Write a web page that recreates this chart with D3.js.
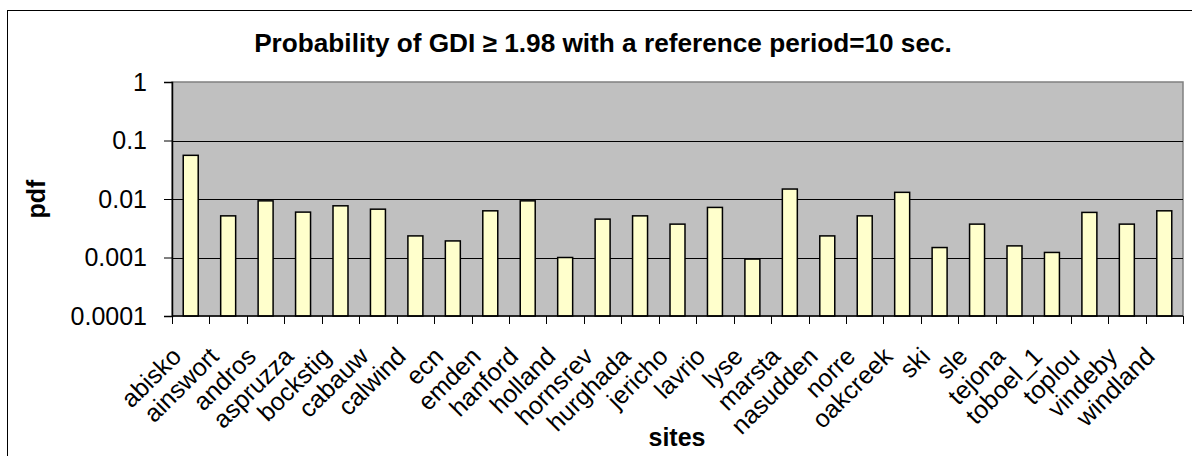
<!DOCTYPE html>
<html>
<head>
<meta charset="utf-8">
<script src="https://d3js.org/d3.v7.min.js"></script>
<style>
  body { margin: 0; background: #fff; }
  svg { display: block; font-family: Arial, "Liberation Sans", sans-serif; }
</style>
</head>
<body>
<svg width="1192" height="456"></svg>
<script>
// sites and pdf values
const sites = ['abisko', 'ainswort', 'andros', 'aspruzza', 'bockstig', 'cabauw', 'calwind',
  'ecn', 'emden', 'hanford', 'holland', 'hornsrev', 'hurghada', 'jericho', 'lavrio', 'lyse',
  'marsta', 'nasudden', 'norre', 'oakcreek', 'ski', 'sle', 'tejona', 'toboel_1', 'toplou',
  'vindeby', 'windland'];
const pdf = [0.0558, 0.00515, 0.0093, 0.00597, 0.00765, 0.0067, 0.00234,
  0.00192, 0.00628, 0.0093, 0.00100, 0.00453, 0.00515, 0.00372, 0.00718, 0.00094,
  0.0148, 0.00234, 0.00515, 0.0130, 0.00148, 0.00372, 0.00158, 0.00122, 0.0059,
  0.00372, 0.00628];
const yTicks = [0.0001, 0.001, 0.01, 0.1, 1];
const yTickLabels = ['0.0001', '0.001', '0.01', '0.1', '1'];

const svg = d3.select('svg');
const plot = { left: 172, top: 82, right: 1183, bottom: 316 };

// outer chart border (runs off the picture on the right and bottom)
svg.append('rect')
  .attr('x', 7.5).attr('y', 10.5)
  .attr('width', 1200).attr('height', 470)
  .attr('fill', '#fff').attr('stroke', '#000').attr('stroke-width', 1);

const x = d3.scaleBand().domain(sites).range([plot.left, plot.right]).paddingInner(0.6).paddingOuter(0.3);
const xc = d3.scaleBand().domain(sites).range([plot.left, plot.right]);
const y = d3.scaleLog().domain([0.0001, 1]).range([plot.bottom, plot.top]);

svg.append('rect')
  .attr('x', plot.left).attr('y', plot.top)
  .attr('width', plot.right - plot.left).attr('height', plot.bottom - plot.top)
  .attr('fill', '#c0c0c0').attr('stroke', '#808080').attr('stroke-width', 1.5);

// gridlines
svg.append('g').selectAll('line')
  .data(yTicks.slice(1, -1))
  .enter().append('line')
  .attr('x1', plot.left).attr('x2', plot.right)
  .attr('y1', d => Math.round(y(d)) + 0.5).attr('y2', d => Math.round(y(d)) + 0.5)
  .attr('stroke', '#000').attr('stroke-width', 1);

// bars
svg.append('g').selectAll('rect')
  .data(sites)
  .enter().append('rect')
  .attr('x', d => x(d))
  .attr('width', x.bandwidth())
  .attr('y', (d, i) => y(pdf[i]))
  .attr('height', (d, i) => plot.bottom - y(pdf[i]))
  .attr('fill', '#ffffcc').attr('stroke', '#000').attr('stroke-width', 1.5);

// y axis
const yAxis = d3.axisLeft(y).tickValues(yTicks)
  .tickFormat((d, i) => yTickLabels[i]).tickSize(8).tickPadding(17);
const gy = svg.append('g').attr('transform', `translate(${plot.left},0)`).call(yAxis);
gy.select('.domain').attr('stroke', '#000').attr('stroke-width', 1.5);
gy.selectAll('.tick line').attr('stroke', '#000');
gy.selectAll('.tick text').attr('font-size', 25).attr('font-family', 'Arial, "Liberation Sans", sans-serif').attr('fill', '#000');

// x axis: ticks between categories
const gx = svg.append('g');
gx.append('line')
  .attr('x1', plot.left).attr('x2', plot.right)
  .attr('y1', plot.bottom).attr('y2', plot.bottom)
  .attr('stroke', '#000').attr('stroke-width', 1.5);
gx.selectAll('line.tk')
  .data(sites.concat(['_end']))
  .enter().append('line').attr('class', 'tk')
  .attr('x1', (d, i) => Math.round(plot.left + i * xc.bandwidth()) + 0.5)
  .attr('x2', (d, i) => Math.round(plot.left + i * xc.bandwidth()) + 0.5)
  .attr('y1', plot.bottom).attr('y2', plot.bottom + 8)
  .attr('stroke', '#000').attr('stroke-width', 1);
gx.selectAll('text')
  .data(sites)
  .enter().append('text')
  .attr('transform', d => `translate(${xc(d) + xc.bandwidth() / 2 - 8},${plot.bottom + 42}) rotate(-45)`)
  .attr('text-anchor', 'end')
  .attr('font-size', 25)
  .text(d => d);

// titles
svg.append('text')
  .attr('x', 603).attr('y', 52)
  .attr('text-anchor', 'middle')
  .attr('font-size', 26.2).attr('font-weight', 'bold')
  .text('Probability of GDI \u2265 1.98 with a reference period=10 sec.');

svg.append('text')
  .attr('x', 677).attr('y', 446)
  .attr('text-anchor', 'middle')
  .attr('font-size', 25).attr('font-weight', 'bold')
  .text('sites');

svg.append('text')
  .attr('transform', 'translate(45,199) rotate(-90)')
  .attr('text-anchor', 'middle')
  .attr('font-size', 25).attr('font-weight', 'bold')
  .text('pdf');
</script>
</body>
</html>
